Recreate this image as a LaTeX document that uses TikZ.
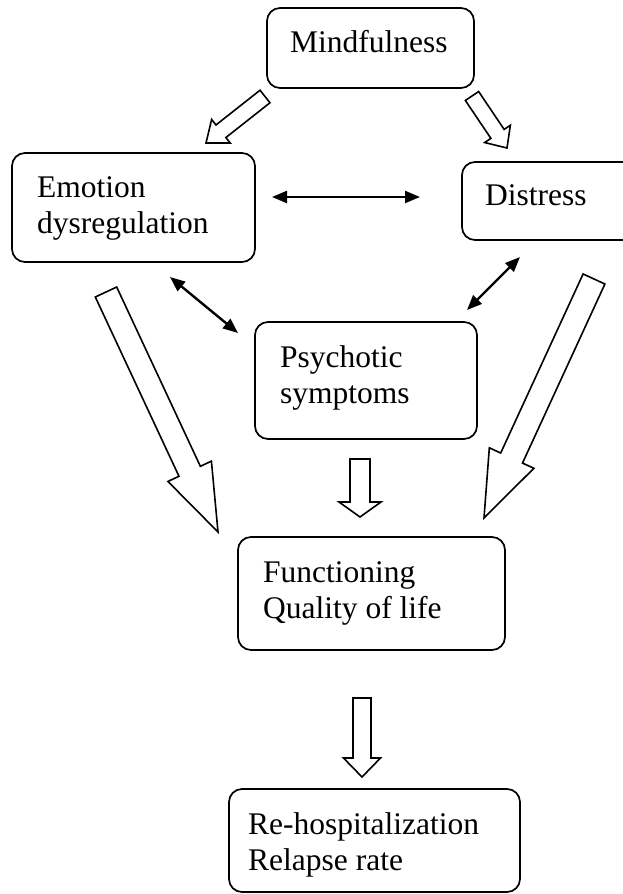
\documentclass[tikz,border=0pt]{standalone}
\usepackage{fontspec}
\setmainfont{Liberation Serif}
\usetikzlibrary{calc,arrows.meta}
\tikzset{
  box/.style={draw, line width=1.7pt, rounded corners=13pt, inner sep=0pt},
  txt/.style={anchor=base west, inner sep=0pt, align=left, font=\fontsize{31.5}{36}\selectfont},
  blk/.style={draw, line width=1.6pt, fill=white, line join=miter},
  dbl/.style={line width=2.4pt, {Triangle[length=15pt,width=12pt]}-{Triangle[length=15pt,width=12pt]}},
}
\newcommand\blockarrow[5]{%
  \coordinate (hb) at ($(#2)!#5!(#1)$);
  \draw[blk] ($(#1)!#3!90:(#2)$) -- ($(hb)!#3!90:(#2)$) -- ($(hb)!#4!90:(#2)$) -- (#2)
    -- ($(hb)!#4!-90:(#2)$) -- ($(hb)!#3!-90:(#2)$) -- ($(#1)!#3!-90:(#2)$) -- cycle;
}
\begin{document}
\begin{tikzpicture}[x=1pt,y=-1pt]
\useasboundingbox (0,0) rectangle (623,894);
\begin{scope}
\clip (0,0) rectangle (623,894);
% boxes
\node[box, minimum width=207pt, minimum height=80pt] (mind) at (370.5,48) {};
\node[box, minimum width=243pt, minimum height=109pt] (emo) at (133.5,207.5) {};
\node[box, minimum width=176pt, minimum height=78pt] (dis) at (550,201) {};
\node[box, minimum width=222pt, minimum height=117pt] (psy) at (366,380.5) {};
\node[box, minimum width=267pt, minimum height=113pt] (fun) at (371.5,593.5) {};
\node[box, minimum width=291pt, minimum height=103pt] (reh) at (374.5,840.5) {};
\end{scope}

% texts (base = baseline of last line)
\node[txt] (mindt) at (290,52) {Mindfulness};
\node[txt] (emot) at (37,233) {Emotion\\dysregulation};
\node[txt] (dist) at (485,205) {Distress};
\node[txt] (psyt) at (280,403) {Psychotic\\symptoms};
\node[txt] (funt) at (263,618) {Functioning\\Quality of life};
\node[txt] (reht) at (248,870) {Re-hospitalization\\Relapse rate};

% block arrow end points
\coordinate (a1s) at (265,96.5);  \coordinate (a1e) at (206,143);
\coordinate (a2s) at (472,96);    \coordinate (a2e) at (507,148);
\coordinate (a3s) at (106,292);   \coordinate (a3e) at (218,532);
\coordinate (a4s) at (594,279);   \coordinate (a4e) at (484,518);
\coordinate (a5s) at (360,459);   \coordinate (a5e) at (360,517);
\coordinate (a6s) at (362,698);   \coordinate (a6e) at (362,777);

\blockarrow{a1s}{a1e}{8pt}{15pt}{19pt}
\blockarrow{a2s}{a2e}{8pt}{15.5pt}{17pt}
\blockarrow{a3s}{a3e}{11.8pt}{24pt}{67pt}
\blockarrow{a4s}{a4e}{12pt}{24.5pt}{66pt}
\blockarrow{a5s}{a5e}{10pt}{21pt}{15pt}
\blockarrow{a6s}{a6e}{9pt}{18.5pt}{19pt}

% double arrows
\coordinate (d1s) at (272,197); \coordinate (d1e) at (420,197);
\coordinate (d2s) at (170,277); \coordinate (d2e) at (238,333);
\coordinate (d3s) at (520,257); \coordinate (d3e) at (467,310);
\draw[dbl] (d1s) -- (d1e);
\draw[dbl] (d2s) -- (d2e);
\draw[dbl] (d3s) -- (d3e);
\end{tikzpicture}
\end{document}
